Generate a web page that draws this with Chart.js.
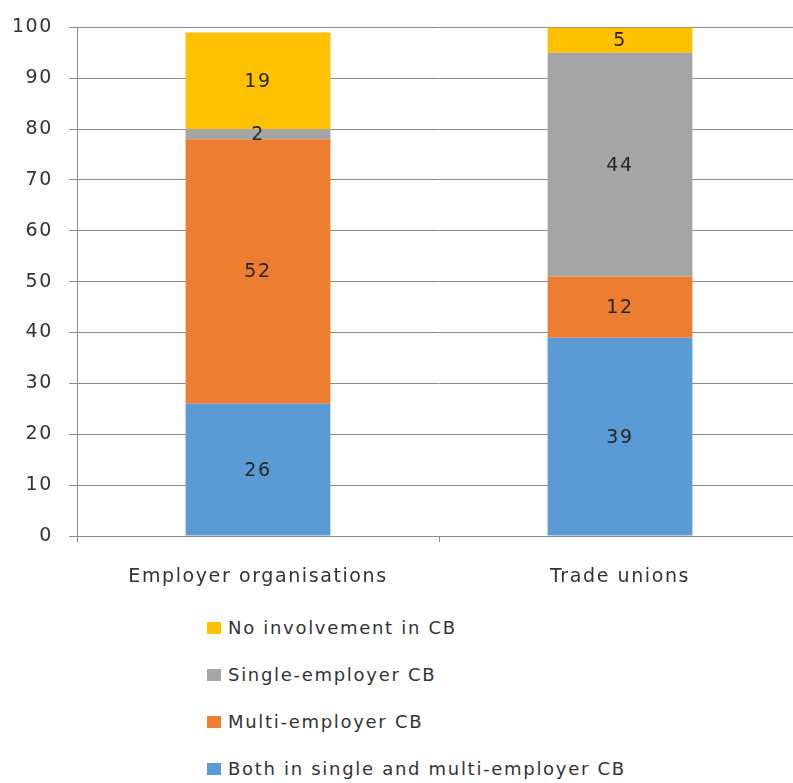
<!DOCTYPE html>
<html>
<head>
<meta charset="utf-8">
<script src="https://cdn.jsdelivr.net/npm/chart.js@4.4.1/dist/chart.umd.min.js"></script>
<style>
  html, body { margin: 0; padding: 0; background: #fff; }
  #wrap { position: relative; width: 793px; height: 783px; overflow: hidden; }
  #chart { position: absolute; left: 0; top: 0; }
  #legend { position: absolute; left: 207px; top: 0; font-family: "DejaVu Sans", sans-serif; font-size: 18px; letter-spacing: 1.7px; color: #333; }
  .item { position: absolute; left: 0; white-space: nowrap; height: 24px; line-height: 24px; }
  .swatch { position: absolute; left: 0; top: 6px; width: 14px; height: 12px; }
  .label { position: absolute; left: 21px; top: 0; }
</style>
</head>
<body>
<div id="wrap">
  <canvas id="chart" width="810" height="600"></canvas>
  <div id="legend"></div>
</div>
<script>
// Share of organisations by type of collective bargaining involvement (%)
const categories = ['Employer organisations', 'Trade unions'];
const seriesNames = [
  'Both in single and multi-employer CB',
  'Multi-employer CB',
  'Single-employer CB',
  'No involvement in CB'
];
const bothValues   = [26, 39];
const multiValues  = [52, 12];
const singleValues = [2, 44];
const noneValues   = [19, 5];
const yTicks = [0, 10, 20, 30, 40, 50, 60, 70, 80, 90, 100];

const seriesColors = ['#5B9BD5', '#ED7D31', '#A5A5A5', '#FFC000'];
const seriesValues = [bothValues, multiValues, singleValues, noneValues];

const FONT = 'DejaVu Sans';
const GRID = '#8a8a8a';

// Slightly widened lettering for all canvas text
const spacing = {
  id: 'spacing',
  beforeLayout(chart) { chart.ctx.letterSpacing = '1.6px'; },
  beforeDraw(chart) { chart.ctx.letterSpacing = '1.6px'; }
};

// Writes each segment's value in the middle of the segment
const segmentLabels = {
  id: 'segmentLabels',
  afterDatasetsDraw(chart) {
    const ctx = chart.ctx;
    ctx.save();
    ctx.font = '19px "' + FONT + '"';
    ctx.fillStyle = '#262626';
    ctx.textAlign = 'center';
    ctx.textBaseline = 'middle';
    chart.data.datasets.forEach((ds, i) => {
      const meta = chart.getDatasetMeta(i);
      meta.data.forEach((bar, j) => {
        const v = ds.data[j];
        const cy = (bar.y + bar.base) / 2;
        ctx.fillText(String(v), bar.x, cy + 1);
      });
    });
    ctx.restore();
  }
};

const chart = new Chart(document.getElementById('chart'), {
  type: 'bar',
  data: {
    labels: categories,
    datasets: seriesNames.map((name, i) => ({
      label: name,
      data: seriesValues[i],
      backgroundColor: seriesColors[i],
      borderWidth: 0,
      categoryPercentage: 1.0,
      barPercentage: 0.4
    }))
  },
  options: {
    responsive: false,
    animation: false,
    devicePixelRatio: 1,
    layout: { padding: { top: 26, right: 9, left: 0, bottom: 0 } },
    plugins: {
      legend: { display: false },
      tooltip: { enabled: false }
    },
    scales: {
      x: {
        stacked: true,
        grid: { display: true, drawOnChartArea: false, drawTicks: true, tickLength: 6, color: GRID, lineWidth: 1 },
        border: { display: true, color: GRID, width: 1 },
        ticks: { font: { family: FONT, size: 19 }, color: '#333', padding: 24 },
        afterFit(scale) { scale.height = 64; }
      },
      y: {
        stacked: true,
        min: 0,
        max: 100,
        afterBuildTicks(scale) { scale.ticks = yTicks.map(v => ({ value: v })); },
        grid: { color: GRID, lineWidth: 1, tickLength: 8, drawTicks: true },
        border: { display: true, color: GRID, width: 1 },
        ticks: { font: { family: FONT, size: 19 }, color: '#333', padding: 16 },
        afterFit(scale) { scale.width = 77; }
      }
    }
  },
  plugins: [spacing, segmentLabels]
});

// Legend listed top-down in reverse stacking order
const legend = document.getElementById('legend');
const rowCenters = [628, 675, 722, 769];
chart.data.datasets.slice().reverse().forEach((ds, k) => {
  const item = document.createElement('div');
  item.className = 'item';
  item.style.top = (rowCenters[k] - 12) + 'px';
  const sw = document.createElement('span');
  sw.className = 'swatch';
  sw.style.background = ds.backgroundColor;
  const tx = document.createElement('span');
  tx.className = 'label';
  tx.textContent = ds.label;
  item.appendChild(sw);
  item.appendChild(tx);
  legend.appendChild(item);
});
</script>
</body>
</html>
